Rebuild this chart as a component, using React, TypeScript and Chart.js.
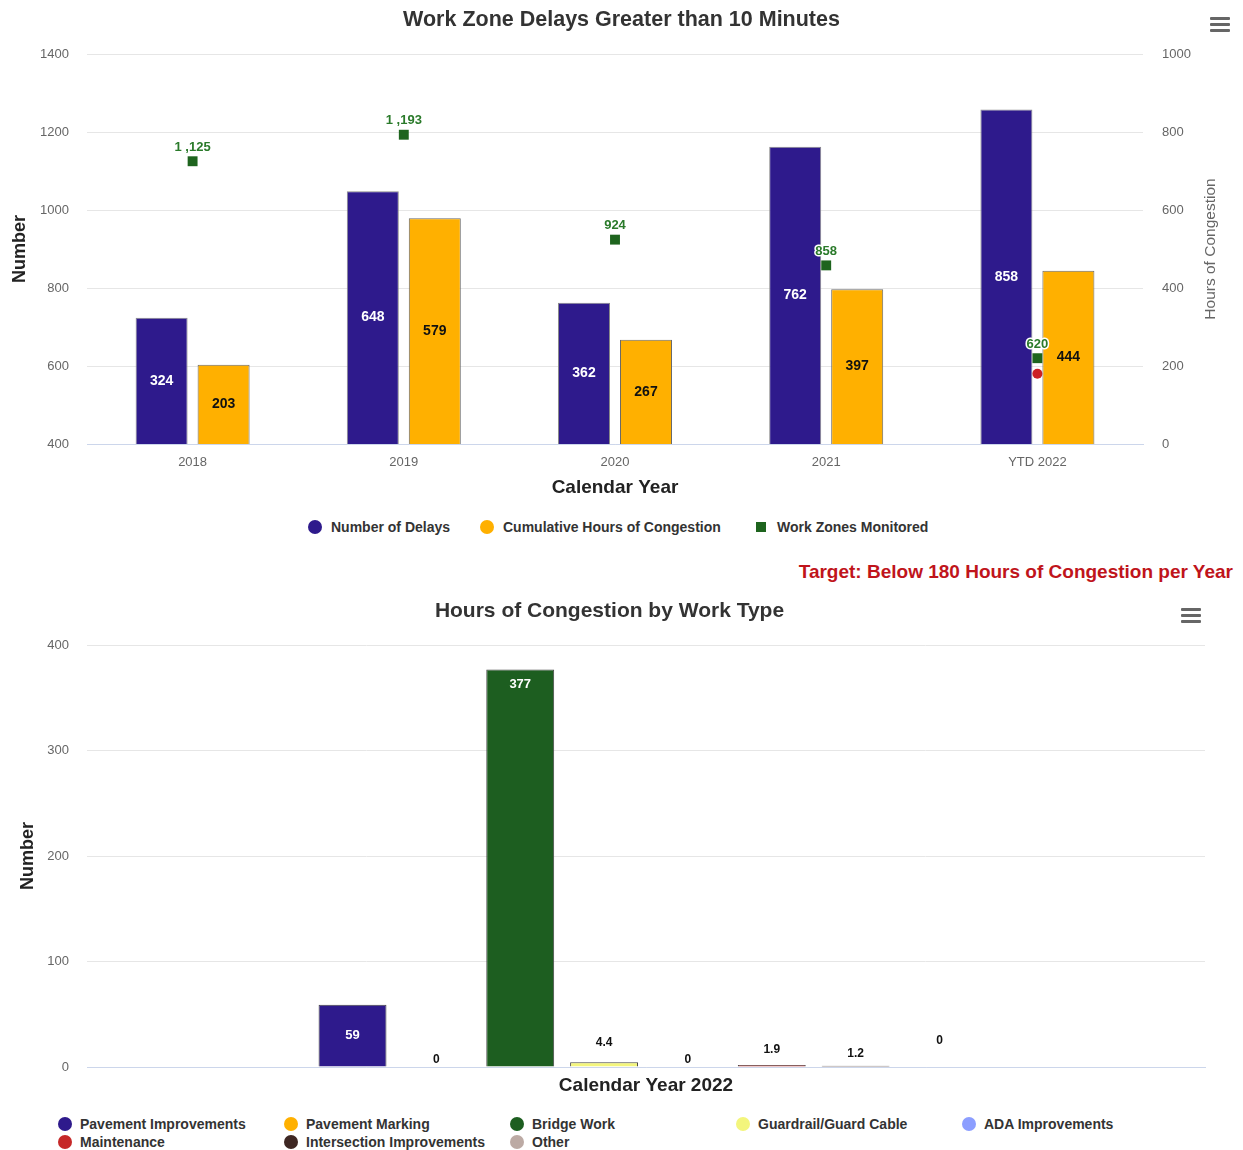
import React, { useEffect, useRef } from 'react';
import { Chart, registerables } from 'chart.js';

Chart.register(...registerables);

const FONT = '"Liberation Sans", Arial, Helvetica, sans-serif';

// ---------- Top chart data ----------
const years = ['2018', '2019', '2020', '2021', 'YTD 2022'];
const numberOfDelays = [324, 648, 362, 762, 858];
const hoursOfCongestion = [203, 579, 267, 397, 444];
const workZonesMonitored = [1125, 1193, 924, 858, 620];
const targetHours = [null, null, null, null, 180];
const leftAxisRange = [400, 1400];
const rightAxisRange = [0, 1000];
const axisStep = 200;

// ---------- Bottom chart data ----------
const workCategory = ['Calendar Year 2022'];
const workTypes = [
  'Pavement Improvements',
  'Pavement Marking',
  'Bridge Work',
  'Guardrail/Guard Cable',
  'ADA Improvements',
  'Maintenance',
  'Intersection Improvements',
  'Other',
];
const workTypeHours = [59, 0, 377, 4.4, 0, 1.9, 1.2, 0];
const workAxisRange = [0, 400];
const workAxisStep = 100;

// ---------- Styles ----------
const PURPLE = '#2e1a8c';
const YELLOW = '#ffb000';
const GREEN_SQ = '#1e641e';
const GREEN_LBL = '#2a7a2a';
const RED = '#cc1f24';
const workTypeColors = ['#2e1a8c', '#ffb000', '#1d5e20', '#f3f57c', '#8c9eff', '#c62828', '#3e2723', '#bcaaa4'];
const legendOrder = [0, 1, 2, 3, 4, 5, 6, 7];

const fmtThousands = (v: number) =>
  v >= 1000 ? `${Math.floor(v / 1000)} ,${String(v % 1000).padStart(3, '0')}` : String(v);
const plainTick = (v: any) => String(v);

const valueLabelPlugin = {
  id: 'valueLabels',
  afterDatasetsDraw(chart: any) {
    const ctx = chart.ctx;
    chart.data.datasets.forEach((ds: any, i: number) => {
      const cfg = ds.valueLabel;
      if (!cfg) return;
      const meta = chart.getDatasetMeta(i);
      meta.data.forEach((el: any, j: number) => {
        const v = ds.data[j];
        if (v === null || v === undefined) return;
        const text = cfg.format ? cfg.format(v) : String(v);
        const x = el.x;
        let y: number;
        if (cfg.position === 'center') y = (el.y + el.base) / 2;
        else if (cfg.position === 'insideTop') y = el.y + cfg.offset;
        else y = el.y - cfg.offset;
        ctx.save();
        ctx.font = `bold ${cfg.size}px ${FONT}`;
        ctx.textAlign = 'center';
        ctx.textBaseline = 'middle';
        if (cfg.outline) {
          ctx.lineWidth = 3;
          ctx.lineJoin = 'round';
          ctx.strokeStyle = '#ffffff';
          ctx.strokeText(text, x, y);
        }
        ctx.fillStyle = cfg.color;
        ctx.fillText(text, x, y);
        ctx.restore();
      });
    });
  },
};

const rightTitlePlugin = {
  id: 'rightTitle',
  afterDraw(chart: any) {
    const opts = chart.options.plugins.rightTitle;
    if (!opts) return;
    const ctx = chart.ctx;
    const a = chart.chartArea;
    ctx.save();
    ctx.translate(opts.x, (a.top + a.bottom) / 2);
    ctx.rotate(-Math.PI / 2);
    ctx.font = `${opts.size}px ${FONT}`;
    ctx.fillStyle = opts.color;
    ctx.textAlign = 'center';
    ctx.textBaseline = 'middle';
    ctx.fillText(opts.text, 0, 0);
    ctx.restore();
  },
};

function Hamburger({ left, top }: { left: number; top: number }) {
  return (
    <div style={{ position: 'absolute', left, top, width: 20, height: 16 }}>
      {[0, 6, 12].map((t) => (
        <div key={t} style={{ position: 'absolute', left: 0, top: t, width: 20, height: 3, background: '#666', borderRadius: 1 }} />
      ))}
    </div>
  );
}

function TopChart() {
  const ref = useRef<HTMLCanvasElement>(null);
  useEffect(() => {
    const chart = new Chart(ref.current as HTMLCanvasElement, {
      data: {
        labels: years,
        datasets: [
          {
            type: 'bar',
            label: 'Number of Delays',
            data: numberOfDelays,
            yAxisID: 'yR',
            backgroundColor: PURPLE,
            borderColor: '#8a8a8a',
            borderWidth: 1,
            borderSkipped: 'bottom',
            order: 2,
            valueLabel: { position: 'center', color: '#ffffff', size: 14 },
          } as any,
          {
            type: 'bar',
            label: 'Cumulative Hours of Congestion',
            data: hoursOfCongestion,
            yAxisID: 'yR',
            backgroundColor: YELLOW,
            borderColor: '#6a6a6a',
            borderWidth: 1,
            borderSkipped: 'bottom',
            order: 2,
            valueLabel: { position: 'center', color: '#111111', size: 14 },
          } as any,
          {
            type: 'line',
            label: 'Work Zones Monitored',
            data: workZonesMonitored,
            yAxisID: 'yL',
            showLine: false,
            pointStyle: 'rect',
            pointRadius: 7,
            pointBorderWidth: 0,
            backgroundColor: GREEN_SQ,
            borderColor: GREEN_SQ,
            order: 0,
            valueLabel: { position: 'above', offset: 14, color: GREEN_LBL, size: 13, outline: true, format: fmtThousands },
          } as any,
          {
            type: 'line',
            label: 'Target',
            data: targetHours,
            yAxisID: 'yR',
            showLine: false,
            pointStyle: 'circle',
            pointRadius: 5,
            pointBorderWidth: 0,
            backgroundColor: RED,
            borderColor: RED,
            order: 0,
          } as any,
        ],
      },
      options: {
        animation: false,
        responsive: false,
        maintainAspectRatio: false,
        layout: { padding: 0 },
        datasets: { bar: { categoryPercentage: 0.587, barPercentage: 0.839 } },
        scales: {
          x: {
            grid: { display: false, drawTicks: false },
            border: { color: '#ccd6eb', width: 1 },
            ticks: { color: '#666666', font: { size: 13, family: FONT }, padding: 11 },
            title: {
              display: true,
              text: 'Calendar Year',
              color: '#222222',
              font: { size: 19, weight: 'bold', family: FONT },
              padding: { top: 0, bottom: 1 },
            },
            afterFit: (s: any) => {
              s.height = 56;
            },
          },
          yL: {
            position: 'left',
            min: leftAxisRange[0],
            max: leftAxisRange[1],
            ticks: { stepSize: axisStep, color: '#666666', font: { size: 13, family: FONT }, padding: 18, callback: plainTick },
            grid: { color: '#e6e6e6', drawTicks: false },
            border: { display: false },
            title: {
              display: true,
              text: 'Number',
              color: '#222222',
              font: { size: 18, weight: 'bold', family: FONT },
              padding: { top: 9, bottom: 0 },
            },
            afterFit: (s: any) => {
              s.width = 87;
            },
          },
          yR: {
            position: 'right',
            min: rightAxisRange[0],
            max: rightAxisRange[1],
            ticks: { stepSize: axisStep, color: '#666666', font: { size: 13, family: FONT }, padding: 19, callback: plainTick },
            grid: { display: false, drawTicks: false },
            border: { display: false },
            afterFit: (s: any) => {
              s.width = 100;
            },
          },
        } as any,
        plugins: {
          title: {
            display: true,
            text: 'Work Zone Delays Greater than 10 Minutes',
            color: '#333333',
            font: { size: 21.5, weight: 'bold', family: FONT },
            padding: { top: 7, bottom: 21.2 },
          },
          legend: { display: false },
          tooltip: { enabled: false },
          rightTitle: { text: 'Hours of Congestion', x: 1211, size: 15.5, color: '#666666' },
        } as any,
      },
      plugins: [valueLabelPlugin, rightTitlePlugin],
    });
    return () => chart.destroy();
  }, []);
  return <canvas ref={ref} width={1243} height={500} style={{ position: 'absolute', left: 0, top: 0, width: 1243, height: 500 }} />;
}

function BottomChart() {
  const ref = useRef<HTMLCanvasElement>(null);
  useEffect(() => {
    const labelStyle = (i: number, v: number) => {
      if (v >= 300) return { position: 'insideTop', offset: 15, color: '#ffffff', size: 13 };
      if (v >= 30) return { position: 'center', color: '#ffffff', size: 13 };
      const extra: Record<number, number> = { 1: 7, 3: 20, 4: 7, 5: 15, 6: 12, 7: 26 };
      return { position: 'above', offset: extra[i] ?? 10, color: '#111111', size: 12 };
    };
    const chart = new Chart(ref.current as HTMLCanvasElement, {
      type: 'bar',
      data: {
        labels: workCategory,
        datasets: workTypes.map((name, i) => ({
          label: name,
          data: [workTypeHours[i]],
          backgroundColor: workTypeColors[i],
          borderColor: '#444444',
          borderWidth: workTypeHours[i] === 0 ? 0 : 1,
          borderSkipped: 'bottom',
          valueLabel: labelStyle(i, workTypeHours[i]),
        })) as any,
      },
      options: {
        animation: false,
        responsive: false,
        maintainAspectRatio: false,
        layout: { padding: { left: 14, right: 38, top: 0, bottom: 0 } },
        datasets: { bar: { categoryPercentage: 0.6, barPercentage: 0.81 } },
        scales: {
          x: {
            grid: { display: false, drawTicks: false },
            border: { color: '#ccd6eb', width: 1 },
            ticks: { display: false },
            title: {
              display: true,
              text: 'Calendar Year 2022',
              color: '#222222',
              font: { size: 19, weight: 'bold', family: FONT },
              padding: { top: 0, bottom: 3 },
            },
            afterFit: (s: any) => {
              s.height = 33;
            },
          },
          y: {
            min: workAxisRange[0],
            max: workAxisRange[1],
            ticks: { stepSize: workAxisStep, color: '#666666', font: { size: 13, family: FONT }, padding: 18, callback: plainTick },
            grid: { color: '#e6e6e6', drawTicks: false },
            border: { display: false },
            title: {
              display: true,
              text: 'Number',
              color: '#222222',
              font: { size: 18, weight: 'bold', family: FONT },
              padding: { top: 3, bottom: 0 },
            },
            afterFit: (s: any) => {
              s.width = 73;
            },
          },
        } as any,
        plugins: {
          title: {
            display: true,
            text: 'Hours of Congestion by Work Type',
            color: '#333333',
            font: { size: 21, weight: 'bold', family: FONT },
            padding: { top: 9, bottom: 21 },
          },
          legend: { display: false },
          tooltip: { enabled: false },
        },
      },
      plugins: [valueLabelPlugin],
    });
    return () => chart.destroy();
  }, []);
  return <canvas ref={ref} width={1243} height={510} style={{ position: 'absolute', left: 0, top: 590, width: 1243, height: 510 }} />;
}

const legendText: React.CSSProperties = {
  fontFamily: FONT,
  fontSize: 14,
  fontWeight: 'bold',
  color: '#333333',
  whiteSpace: 'nowrap',
  lineHeight: '18px',
};

function TopLegend() {
  const items = [
    { label: 'Number of Delays', color: PURPLE, shape: 'circle', x: 308 },
    { label: 'Cumulative Hours of Congestion', color: YELLOW, shape: 'circle', x: 480 },
    { label: 'Work Zones Monitored', color: GREEN_SQ, shape: 'square', x: 754 },
  ];
  return (
    <>
      {items.map((it) => (
        <div key={it.label} style={{ position: 'absolute', left: it.x, top: 518, height: 18, display: 'flex', alignItems: 'center' }}>
          {it.shape === 'circle' ? (
            <div style={{ width: 14, height: 14, borderRadius: 7, background: it.color }} />
          ) : (
            <div style={{ width: 10, height: 10, margin: '0 2px', background: it.color }} />
          )}
          <span style={{ ...legendText, marginLeft: 9 }}>{it.label}</span>
        </div>
      ))}
    </>
  );
}

function BottomLegend() {
  return (
    <div
      style={{
        position: 'absolute',
        left: 58,
        top: 1115,
        display: 'grid',
        gridTemplateColumns: 'repeat(5, 226px)',
        gridAutoRows: '18px',
      }}
    >
      {legendOrder.map((i) => (
        <div key={workTypes[i]} style={{ display: 'flex', alignItems: 'center', height: 18 }}>
          <div style={{ width: 14, height: 14, borderRadius: 7, background: workTypeColors[i], flex: 'none' }} />
          <span style={{ ...legendText, marginLeft: 8 }}>{workTypes[i]}</span>
        </div>
      ))}
    </div>
  );
}

export default function App() {
  return (
    <div style={{ position: 'absolute', left: 0, top: 0, width: 1243, height: 1150, background: '#ffffff', overflow: 'hidden' }}>
      <TopChart />
      <Hamburger left={1210} top={17} />
      <TopLegend />
      <div
        style={{
          position: 'absolute',
          right: 10,
          top: 560,
          fontFamily: FONT,
          fontSize: 19,
          fontWeight: 'bold',
          color: '#c0141b',
          whiteSpace: 'nowrap',
          lineHeight: '24px',
        }}
      >
        Target: Below 180 Hours of Congestion per Year
      </div>
      <BottomChart />
      <Hamburger left={1181} top={608} />
      <BottomLegend />
    </div>
  );
}
